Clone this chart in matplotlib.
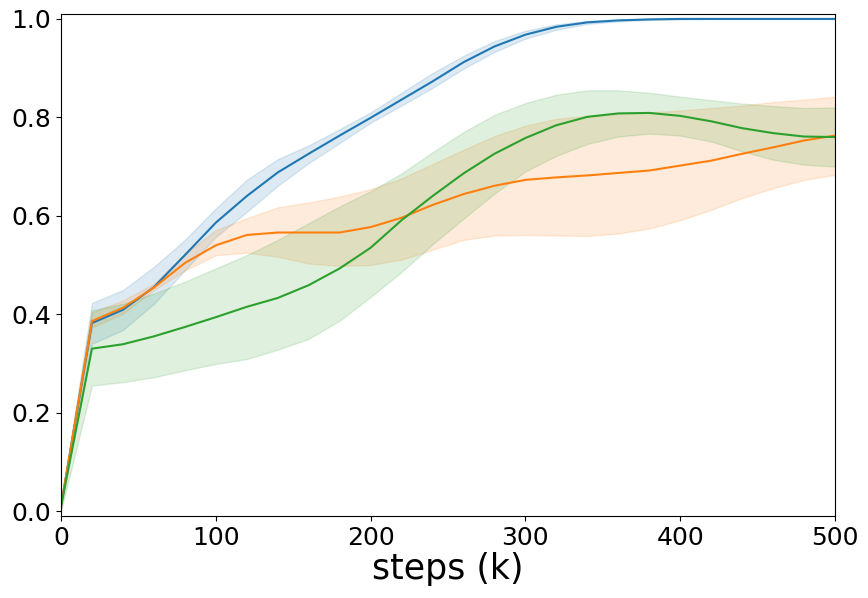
import matplotlib
matplotlib.use("Agg")
import matplotlib.pyplot as plt
import numpy as np

steps = list(range(0, 501, 20))

blue_mean = [0.01, 0.382, 0.409, 0.455, 0.52, 0.586, 0.640, 0.688, 0.726, 0.763, 0.799, 0.836, 0.873,
             0.912, 0.944, 0.968, 0.984, 0.993, 0.997, 0.999, 1.0, 1.0, 1.0, 1.0, 1.0, 1.0]
blue_upper = [0.015, 0.423, 0.449, 0.496, 0.551, 0.615, 0.673, 0.715, 0.743, 0.776, 0.810, 0.850, 0.890,
              0.925, 0.955, 0.976, 0.989, 0.996, 0.999, 1.0, 1.0, 1.0, 1.0, 1.0, 1.0, 1.0]
blue_lower = [0.005, 0.340, 0.368, 0.421, 0.489, 0.557, 0.608, 0.661, 0.707, 0.748, 0.789, 0.824, 0.860,
              0.899, 0.933, 0.960, 0.978, 0.990, 0.995, 0.998, 0.999, 1.0, 1.0, 1.0, 1.0, 1.0]

orange_mean = [0.01, 0.386, 0.413, 0.454, 0.504, 0.540, 0.561, 0.566, 0.566, 0.566, 0.577, 0.596, 0.622,
               0.644, 0.661, 0.673, 0.678, 0.682, 0.687, 0.692, 0.702, 0.712, 0.726, 0.739, 0.753, 0.763]
orange_upper = [0.015, 0.404, 0.428, 0.462, 0.523, 0.571, 0.595, 0.617, 0.627, 0.639, 0.654, 0.676, 0.705,
                0.734, 0.762, 0.783, 0.797, 0.803, 0.807, 0.810, 0.814, 0.819, 0.824, 0.831, 0.836, 0.842]
orange_lower = [0.005, 0.373, 0.401, 0.449, 0.489, 0.520, 0.525, 0.517, 0.503, 0.498, 0.500, 0.511, 0.531,
                0.551, 0.560, 0.561, 0.560, 0.559, 0.564, 0.574, 0.591, 0.612, 0.636, 0.656, 0.673, 0.683]

green_mean = [0.01, 0.330, 0.339, 0.355, 0.374, 0.394, 0.415, 0.433, 0.459, 0.493, 0.535, 0.591, 0.640,
              0.686, 0.726, 0.758, 0.784, 0.801, 0.808, 0.809, 0.803, 0.792, 0.778, 0.768, 0.761, 0.760]
green_upper = [0.015, 0.408, 0.421, 0.442, 0.466, 0.493, 0.520, 0.551, 0.585, 0.619, 0.650, 0.686, 0.729,
               0.770, 0.805, 0.829, 0.846, 0.855, 0.855, 0.850, 0.842, 0.835, 0.828, 0.823, 0.819, 0.820]
green_lower = [0.0, 0.255, 0.262, 0.272, 0.286, 0.299, 0.309, 0.328, 0.350, 0.387, 0.435, 0.486, 0.542,
               0.594, 0.645, 0.690, 0.722, 0.746, 0.761, 0.767, 0.763, 0.751, 0.731, 0.714, 0.704, 0.700]

series = [
    (blue_mean, blue_lower, blue_upper, "tab:blue"),
    (orange_mean, orange_lower, orange_upper, "tab:orange"),
    (green_mean, green_lower, green_upper, "tab:green"),
]

fig = plt.figure(figsize=(8.68, 5.98), dpi=100)
ax = fig.add_axes([61 / 868, 1 - 516 / 598, (835 - 61) / 868, (516 - 14) / 598])

for mean, lo, hi, c in series:
    ax.fill_between(steps, lo, hi, color=c, alpha=0.15, linewidth=1)
    ax.plot(steps, mean, color=c, linewidth=1.5)

ax.set_xlim(0, 500)
ax.set_ylim(-0.01, 1.01)
ax.set_xticks([0, 100, 200, 300, 400, 500])
ax.set_yticks([0.0, 0.2, 0.4, 0.6, 0.8, 1.0])
ax.tick_params(labelsize=18)
ax.set_xlabel("steps (k)", fontsize=25, labelpad=2)

fig.savefig("out.png", dpi=100)
